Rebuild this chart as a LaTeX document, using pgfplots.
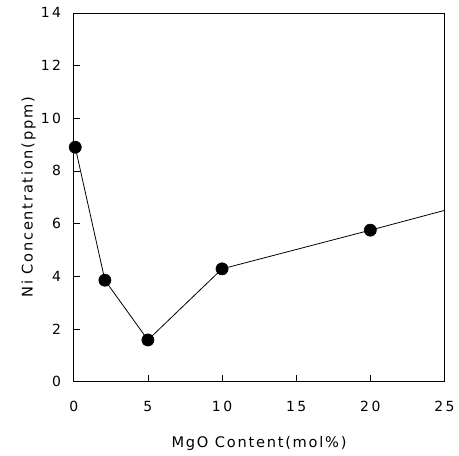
\documentclass[border=0pt]{standalone}
\usepackage{pgfplots}
\pgfplotsset{compat=1.18}
\usepackage{fontspec}
\setmainfont{DejaVu Sans}
\newfontfamily\tickfont[LetterSpace=18]{DejaVu Sans}
\newfontfamily\labfont[LetterSpace=12]{DejaVu Sans}
\begin{document}
\begin{tikzpicture}[x=1pt,y=1pt]
\begin{axis}[
    scale only axis,
    width=279pt, height=277.5pt,
    xmin=0, xmax=25, ymin=0, ymax=14,
    xtick={0,5,...,25}, ytick={0,2,...,14},
    tick align=inside,
    xtick pos=bottom, ytick pos=left,
    major tick length=5pt,
    tick style={black, line width=0.5pt},
    axis line style={line width=0.6pt},
    /pgf/number format/assume math mode=true,
    tick label style={font=\tickfont\fontsize{10.5}{12}\selectfont},
    label style={font=\labfont\fontsize{11}{13}\selectfont},
    xlabel={MgO Content(mol\%)},
    ylabel={Ni Concentration(ppm)},
    xlabel style={yshift=-12pt},
    ylabel style={yshift=-3pt},
    xticklabel style={yshift=-11pt},
    yticklabel style={xshift=-6pt},
    clip=false,
]
\addplot[black, line width=0.6pt] coordinates {
    (0.1, 8.9) (2.1, 3.85) (5.0, 1.58) (10.0, 4.28) (20.0, 5.75) (25.0, 6.5)
};
\addplot[only marks, mark=*, mark size=4.6pt, black] coordinates {
    (0.1, 8.9) (2.1, 3.85) (5.0, 1.58) (10.0, 4.28) (20.0, 5.75)
};
\path (rel axis cs:-0.199,-0.178) rectangle (rel axis cs:1.035,1.035);
\end{axis}
\end{tikzpicture}
\end{document}
